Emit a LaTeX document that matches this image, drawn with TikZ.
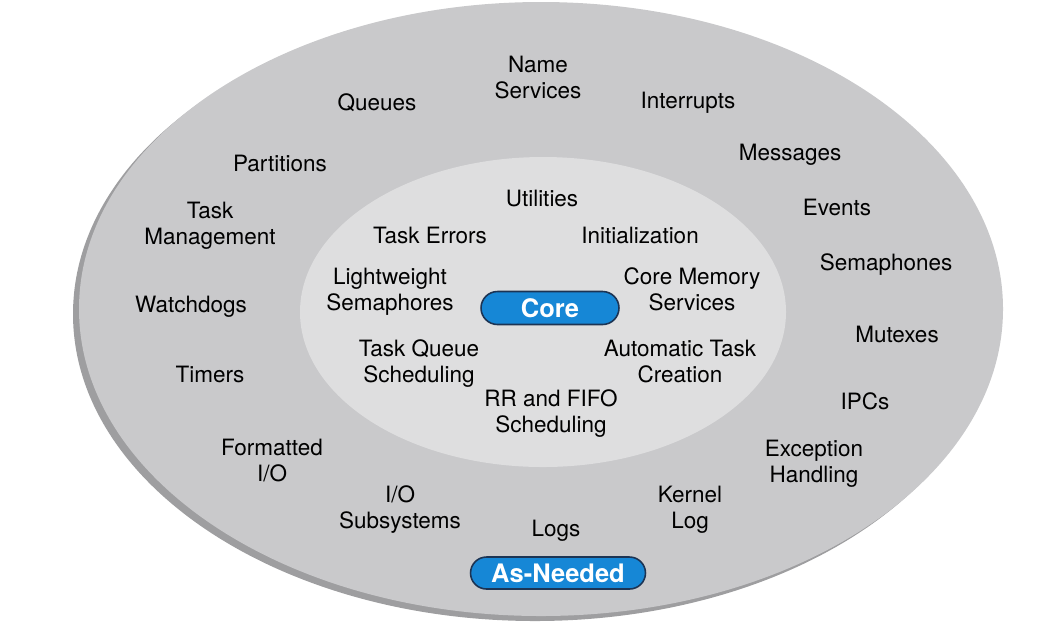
\documentclass[tikz,border=0pt]{standalone}
\usepackage{fontspec}
\setmainfont{TeX Gyre Heros}
\usepackage{tikz}
\usetikzlibrary{shapes.misc}

\definecolor{outergray}{RGB}{201,201,203}
\definecolor{innergray}{RGB}{222,222,223}
\definecolor{shadowgray}{RGB}{158,158,160}
\definecolor{pillblue}{RGB}{22,135,214}
\definecolor{pillrim}{RGB}{28,52,84}

\tikzset{
	lbl/.style = {align = center, inner sep = 0pt, font = \fontsize{12.8}{14.8}\selectfont},
	word/.style = {lbl, text height = 9.2pt, text depth = 0pt},
	lines/.style = {lbl, yshift = -0.06cm},
	pill/.style = {rounded rectangle, draw = pillrim, line width = 0.9pt, fill = pillblue,
		text = white, inner sep = 0pt, font = \fontsize{14.5}{16}\selectfont\bfseries}
}

\begin{document}
\begin{tikzpicture}[x = 0.02cm, y = -0.02cm]
			\useasboundingbox (0, 0) rectangle (1053, 627);
			\fill[shadowgray] (535, 314) ellipse (462 and 307);
			\fill[outergray] (541, 309) ellipse (462 and 307);
			\fill[innergray] (543, 312) ellipse (243 and 155);
			% core services
			\node[pill, minimum width = 2.76cm, minimum height = 0.66cm] (core) at (550, 308) {Core};
			\node[word] (utilities) at (542, 198) {Utilities};
			\node[word] (taskerrors) at (430, 235) {Task Errors};
			\node[word] (init) at (640, 235) {Initialization};
			\node[lines] (lwsem) at (390, 289) {Lightweight\\Semaphores};
			\node[lines] (coremem) at (692, 286) {Core Memory\\Services};
			\node[lines] (taskqueue) at (419, 361) {Task Queue\\Scheduling};
			\node[lines] (autotask) at (680, 358) {Automatic Task\\Creation};
			\node[lines] (rrfifo) at (551, 411) {RR and FIFO\\Scheduling};
			% as-needed services
			\node[pill, minimum width = 3.5cm, minimum height = 0.64cm] (asneeded) at (558, 573) {As-Needed};
			\node[lines] (names) at (538, 74) {Name\\Services};
			\node[word] (queues) at (377, 102) {Queues};
			\node[word] (interrupts) at (688, 100) {Interrupts};
			\node[word] (partitions) at (280, 163) {Partitions};
			\node[word] (messages) at (790, 152) {Messages};
			\node[lines] (taskmgmt) at (210, 223) {Task\\Management};
			\node[word] (events) at (837, 207) {Events};
			\node[word] (semaphones) at (886, 262) {Semaphones};
			\node[word] (watchdogs) at (191, 304) {Watchdogs};
			\node[word] (mutexes) at (897, 334) {Mutexes};
			\node[word] (timers) at (210, 374) {Timers};
			\node[word] (ipcs) at (865, 401) {IPCs};
			\node[lines] (fmtio) at (272, 458) {Formatted\\I/O};
			\node[lines] (exception) at (814, 461) {Exception\\Handling};
			\node[lines] (iosub) at (400, 507) {I/O\\Subsystems};
			\node[lines] (kernellog) at (690, 507) {Kernel\\Log};
			\node[word] (logs) at (556, 528) {Logs};
		\end{tikzpicture}
\end{document}
